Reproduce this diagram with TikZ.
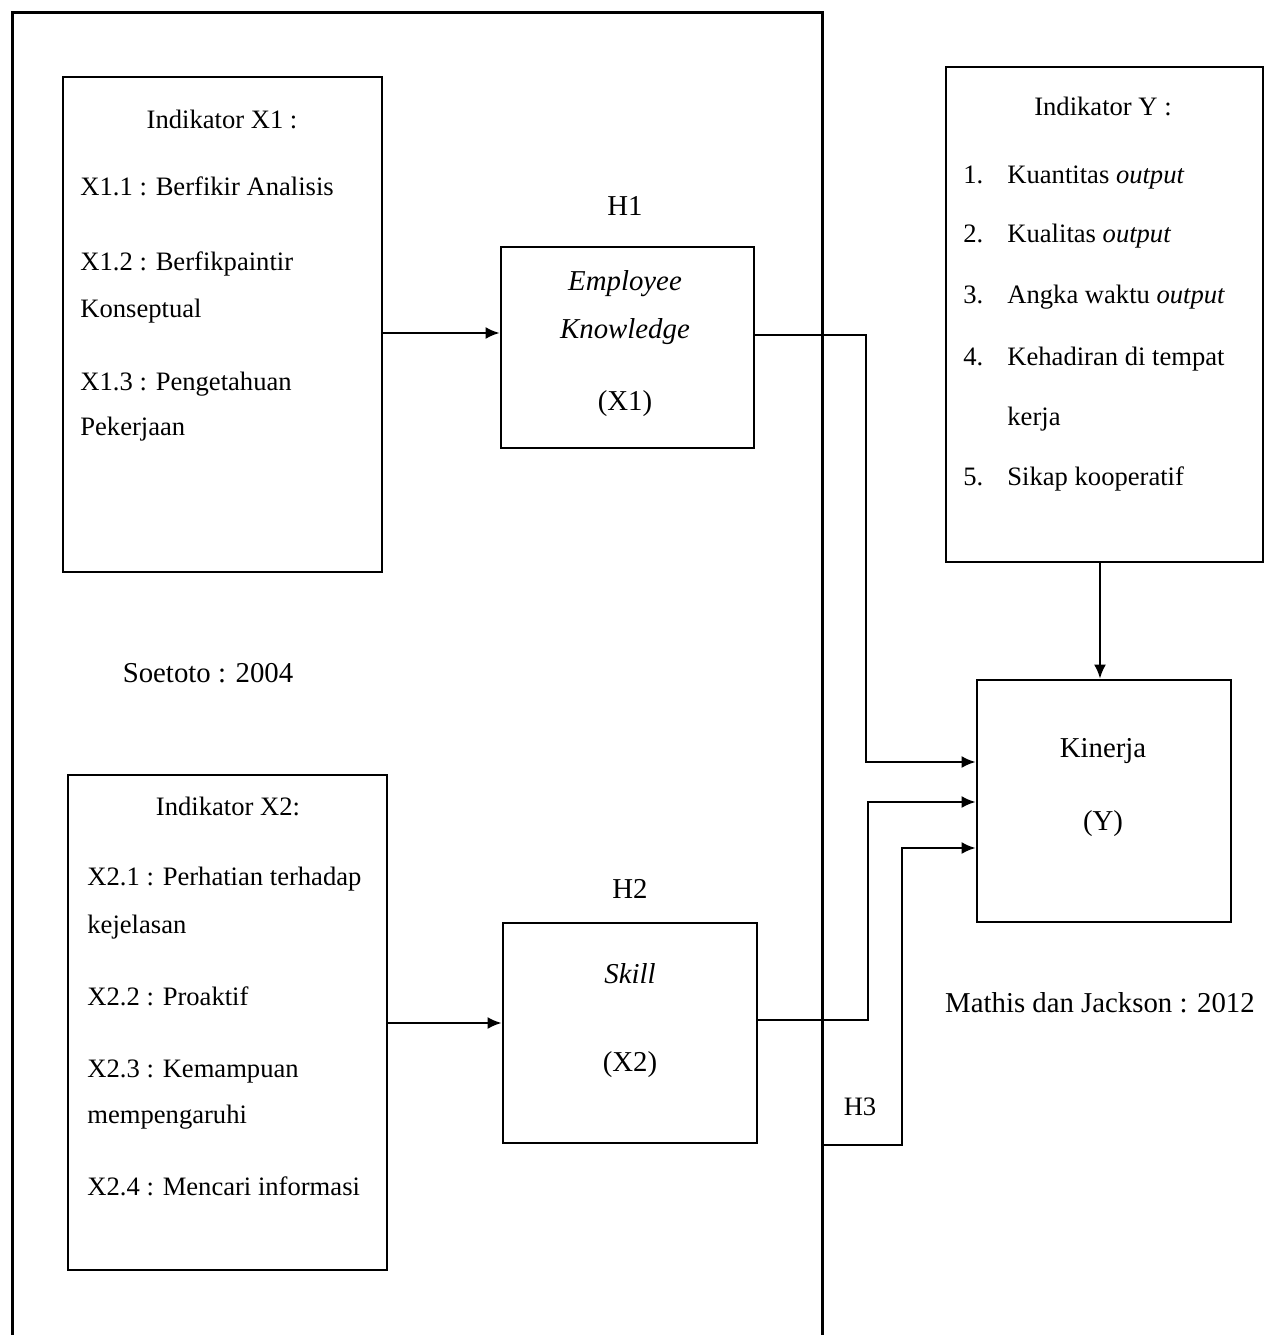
\documentclass[tikz,border=0pt]{standalone}
\usepackage{fontspec}
\setmainfont{Liberation Serif}
\usetikzlibrary{arrows.meta,fit}

\tikzset{
  box/.style={draw, line width=1.4pt, inner sep=0pt},
  ind/.style={font=\fontsize{13.3}{16}\selectfont, inner sep=0pt, text height=1.6ex, text depth=0.4ex},
  lbl/.style={font=\fontsize{14.4}{17}\selectfont, inner sep=0pt, text height=1.6ex, text depth=0.4ex},
  arr/.style={line width=1.1pt, -{Latex[length=7pt,width=6pt]}},
}

\begin{document}
\begin{tikzpicture}[x=0.5pt, y=-0.5pt]
% Place nodes
\useasboundingbox (0,0) rectangle (1265,1335);

% big frame round X1 and X2
\draw[line width=1.5pt] (12,1335) -- (12,12) -- (822,12) -- (822,1335);
\coordinate (h3start) at (822,1145);

% boxes
\node[box, fit={(63,77) (382,572)}] (x1box) {};
\node[box, fit={(501,247) (754,448)}] (ek) {};
\node[box, fit={(68,775) (387,1270)}] (x2box) {};
\node[box, fit={(503,923) (757,1143)}] (skill) {};
\node[box, fit={(946,67) (1263,562)}] (ybox) {};
\node[box, fit={(977,680) (1231,922)}] (kinerja) {};

% indikator X1
\node[ind] (x1title) at (222,123) {Indikator X1 :};
\node[ind, anchor=west] (x1a) at (80,190) {X1.1 : Berfikir Analisis};
\node[ind, anchor=west] (x1b) at (80,265) {X1.2 : Berfikpaintir};
\node[ind, anchor=west] (x1bb) at (80,312) {Konseptual};
\node[ind, anchor=west] (x1c) at (80,385) {X1.3 : Pengetahuan};
\node[ind, anchor=west] (x1cc) at (80,430) {Pekerjaan};

% X1 variable
\node[lbl] (h1) at (625,210) {H1};
\node[lbl] (ektop) at (625,285) {\itshape Employee};
\node[lbl] (ekmid) at (625,333) {\itshape Knowledge};
\node[lbl] (ekname) at (625,405) {(X1)};

\node[lbl] (src1) at (208,677) {Soetoto : 2004};

% indikator X2
\node[ind] (x2title) at (228,810) {Indikator X2:};
\node[ind, anchor=west] (x2a) at (87,880) {X2.1 : Perhatian terhadap};
\node[ind, anchor=west] (x2aa) at (87,928) {kejelasan};
\node[ind, anchor=west] (x2b) at (87,1000) {X2.2 : Proaktif};
\node[ind, anchor=west] (x2c) at (87,1072) {X2.3 : Kemampuan};
\node[ind, anchor=west] (x2cc) at (87,1118) {mempengaruhi};
\node[ind, anchor=west] (x2d) at (87,1190) {X2.4 : Mencari informasi};

% X2 variable
\node[lbl] (h2) at (630,893) {H2};
\node[lbl] (sktop) at (630,978) {\itshape Skill};
\node[lbl] (skname) at (630,1066) {(X2)};

\node[ind] (h3) at (860,1110) {H3};

% indikator Y
\node[ind] (ytitle) at (1103,110) {Indikator Y :};
\node[ind, anchor=west] (yn1) at (963,178) {1.};
\node[ind, anchor=west] (y1) at (1007,178) {Kuantitas \textit{output}};
\node[ind, anchor=west] (yn2) at (963,237) {2.};
\node[ind, anchor=west] (y2) at (1007,237) {Kualitas \textit{output}};
\node[ind, anchor=west] (yn3) at (963,298) {3.};
\node[ind, anchor=west] (y3) at (1007,298) {Angka waktu \textit{output}};
\node[ind, anchor=west] (yn4) at (963,360) {4.};
\node[ind, anchor=west] (y4) at (1007,360) {Kehadiran di tempat};
\node[ind, anchor=west] (y4b) at (1007,420) {kerja};
\node[ind, anchor=west] (yn5) at (963,480) {5.};
\node[ind, anchor=west] (y5) at (1007,480) {Sikap kooperatif};

% Y variable
\node[lbl] (kname) at (1103,752) {Kinerja};
\node[lbl] (kvar) at (1103,825) {(Y)};
\node[lbl] (src2) at (1100,1007) {Mathis dan Jackson : 2012};

% connectors
\draw[arr] (x1box.east |- 0,333) -- (ek.west |- 0,333);
\draw[arr] (x2box.east |- 0,1023) -- (skill.west |- 0,1023);
\draw[arr] (ybox.south -| 1100,0) -- (kinerja.north -| 1100,0);

\draw[arr] (ek.east |- 0,335) -| (866,762) -- (kinerja.west |- 0,762);
\draw[arr] (skill.east |- 0,1020) -| (868,802) -- (kinerja.west |- 0,802);
\draw[arr] (h3start) -| (902,848) -- (kinerja.west |- 0,848);

\end{tikzpicture}
\end{document}
